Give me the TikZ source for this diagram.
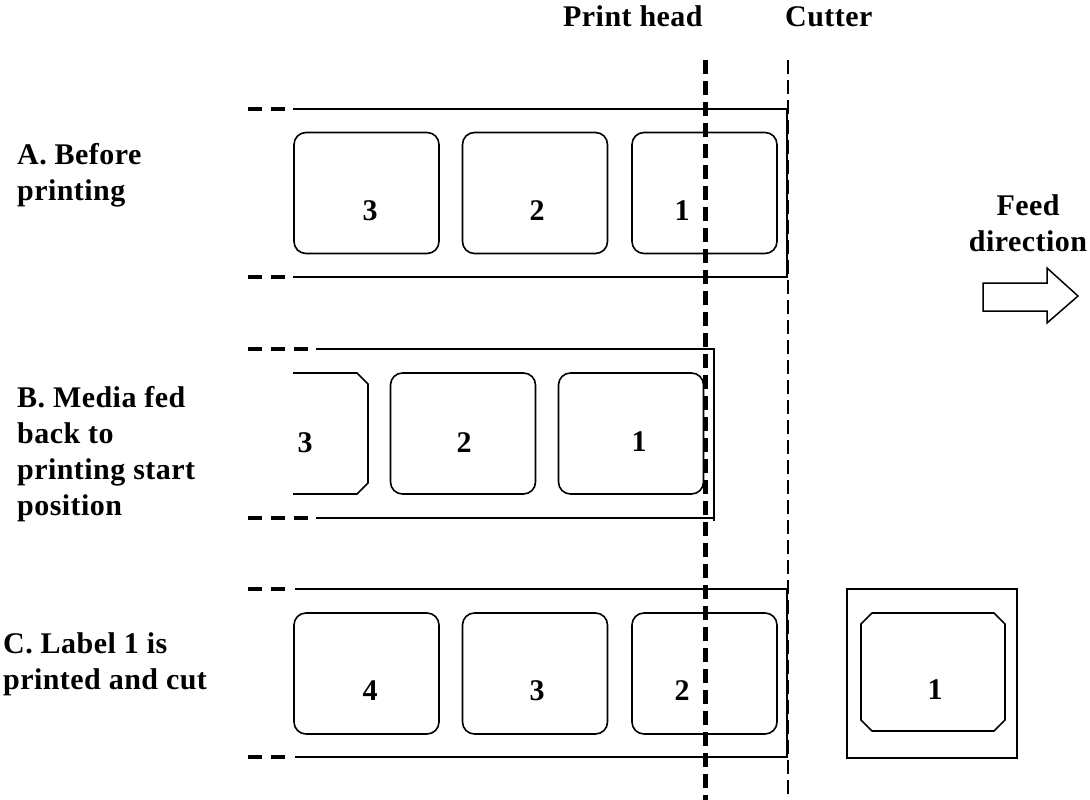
\documentclass[tikz,border=0pt]{standalone}
\usepackage{fontspec}
\setmainfont{Liberation Serif}[LetterSpace=1.5]
\begin{document}
\begin{tikzpicture}[x=1pt,y=-1pt,
  txt/.style={font=\fontsize{30}{36}\selectfont\bfseries, inner sep=0pt},
  strip/.style={line width=2pt},
  stub/.style={line width=4.5pt, dash pattern=on 14pt off 9pt},
  lbl/.style={draw, line width=1.6pt, rounded corners=12pt, minimum width=145pt, minimum height=121pt, inner sep=0pt},
  plainbox/.style={line width=1.6pt},
  headline/.style={line width=5pt, dash pattern=on 14pt off 7pt},
  cutline/.style={line width=2.8pt, dash pattern=on 14pt off 6pt}]
\useasboundingbox (0,0) rectangle (1090,800);

% ---------- side texts ----------
\node[txt, anchor=north west, align=left] (tA) at (17,143) {A. Before\\printing};
\node[txt, anchor=north west, align=left] (tB) at (17,386) {B. Media fed\\back to\\printing start\\position};
\node[txt, anchor=north west, align=left] (tC) at (3,632) {C. Label 1 is\\printed and cut};
\node[txt, anchor=base west] (tHead) at (563,27) {Print head};
\node[txt, anchor=base west] (tCut) at (785,27) {Cutter};
\node[txt, anchor=north, align=center] (tFeed) at (1028,194) {Feed\\direction};

% ---------- row A ----------
\draw[stub] (248,109) -- (293,109);
\draw[stub] (248,277) -- (293,277);
\draw[strip] (293,109) -- (787,109) -- (787,277) -- (293,277);
\node[lbl] (a3) at (366.5,193) {};
\node[lbl] (a2) at (535,193) {};
\node[lbl] (a1) at (704.5,193) {};
\node[txt] (na3) at (370,211) {3};
\node[txt] (na2) at (537,211) {2};
\node[txt] (na1) at (682,211) {1};

% ---------- row B ----------
\draw[stub] (248,349) -- (316,349);
\draw[stub] (248,518) -- (316,518);
\draw[strip] (316,349) -- (714,349) -- (714,521);
\draw[strip] (316,518) -- (714,518);
\draw[plainbox] (293,373) -- (357,373) -- (368,384) -- (368,483) -- (357,494) -- (293,494);
\node[lbl] (b2) at (463,433.5) {};
\node[lbl] (b1) at (631,433.5) {};
\node[txt] (nb3) at (305,443) {3};
\node[txt] (nb2) at (464,443) {2};
\node[txt] (nb1) at (639,442) {1};

% ---------- row C ----------
\draw[stub] (248,589) -- (293,589);
\draw[stub] (248,757) -- (293,757);
\draw[strip] (295,589) -- (787,589) -- (787,757) -- (295,757);
\node[lbl] (c4) at (366.5,673.5) {};
\node[lbl] (c3) at (535,673.5) {};
\node[lbl] (c2) at (704.5,673.5) {};
\node[txt] (nc4) at (370,691) {4};
\node[txt] (nc3) at (537,691) {3};
\node[txt] (nc2) at (682,691) {2};

% ---------- cut label ----------
\node[draw, line width=2pt, minimum width=170pt, minimum height=169pt, inner sep=0pt] (cutbox) at (932,673.5) {};
\draw[plainbox] (872,613) -- (994,613) -- (1005,624) -- (1005,720) -- (994,731) -- (872,731) -- (861,720) -- (861,624) -- cycle;
\node[txt] (ncut) at (935,690) {1};

% ---------- feed arrow ----------
\draw[line width=1.5pt] (983,283) -- (1047,283) -- (1047,268) -- (1078,296) -- (1047,323) -- (1047,311) -- (983,311) -- cycle;

% ---------- print head and cutter ----------
\coordinate (phTop) at (705,60);
\coordinate (phBot) at (705,800);
\coordinate (cuTop) at (788,60);
\coordinate (cuBot) at (788,800);
\draw[headline] (phTop) -- (phBot);
\draw[cutline] (cuTop) -- (cuBot);
\end{tikzpicture}
\end{document}
